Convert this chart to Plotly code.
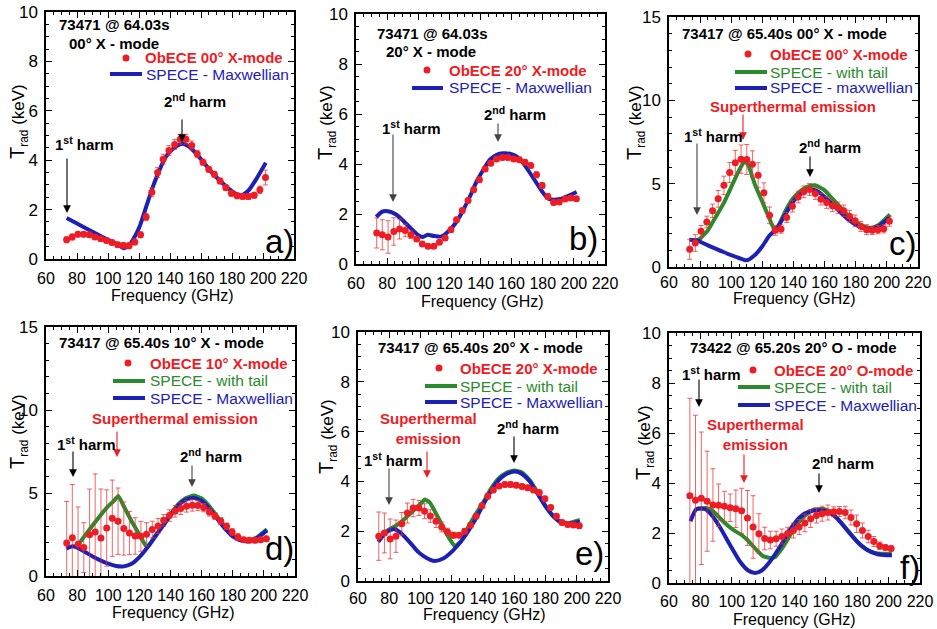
import plotly.graph_objects as go

W, H = 937, 629
FONT = "Liberation Sans, Arial, Helvetica, sans-serif"
RED = "#ee1c24"
ERRC = "rgba(232,50,50,0.75)"
BLUE = "#1c20b4"
GREEN = "#2b8a2b"

# ObECE channel frequencies (GHz)
FREQ = [73.3, 76.9, 80.6, 84.3, 88.0, 91.6, 95.3, 99.0, 102.6, 106.3, 110.0, 113.6,
        117.3, 121.0, 124.6, 128.3, 132.0, 135.6, 139.3, 143.0, 146.6, 150.3, 154.0, 157.6,
        161.3, 165.0, 168.6, 172.3, 176.0, 179.6, 183.3, 187.0, 190.6, 194.3, 198.0, 201.6]

# ---- panel a ----
A_OBS = [0.78, 0.89, 1.0, 1.0, 0.98, 0.89, 0.82, 0.75, 0.67, 0.58, 0.55, 0.54, 0.69, 0.98, 1.7, 2.7,
         3.5, 4.04, 4.39, 4.64, 4.85, 4.85, 4.6, 4.25, 3.92, 3.63, 3.43, 3.16, 2.89, 2.66, 2.56, 2.53,
         2.53, 2.58, 2.8, 3.3]
A_ERR = [0.12, 0.12, 0.1, 0.1, 0.1, 0.1, 0.1, 0.1, 0.1, 0.1, 0.12, 0.12, 0.12, 0.12, 0.15, 0.18,
         0.2, 0.2, 0.2, 0.2, 0.2, 0.2, 0.18, 0.15, 0.12, 0.12, 0.12, 0.12, 0.12, 0.12, 0.12, 0.12,
         0.12, 0.12, 0.15, 0.3]
A_MAX_X = [73.3, 80, 90, 100, 106.5, 109.7, 112.9, 116.1, 120.4, 124.7, 129, 133.2, 137.5, 141.8,
           147.2, 151.4, 156.8, 162.1, 167.5, 172.8, 178.2, 183.6, 186.8, 191, 195.3, 201.8]
A_MAX_Y = [1.66, 1.44, 1.1, 0.78, 0.58, 0.44, 0.51, 0.78, 1.32, 2.13, 2.93, 3.6, 4.15, 4.45,
           4.66, 4.59, 4.28, 3.88, 3.47, 3.14, 2.83, 2.6, 2.6, 2.8, 3.2, 3.9]

# ---- panel b ----
B_OBS = [1.24, 1.17, 1.08, 1.3, 1.4, 1.34, 1.17, 1.0, 0.8, 0.71, 0.71, 0.87, 1.04, 1.37, 1.77, 2.14,
         2.54, 2.97, 3.37, 3.8, 4.03, 4.2, 4.26, 4.26, 4.2, 4.17, 4.07, 3.94, 3.57, 3.14, 2.7, 2.46,
         2.48, 2.6, 2.64, 2.61]
B_ERR = [0.6, 0.6, 0.65, 0.55, 0.4, 0.25, 0.15, 0.1, 0.08, 0.08, 0.08, 0.08, 0.08, 0.1, 0.1, 0.1,
         0.1, 0.1, 0.1, 0.1, 0.1, 0.1, 0.1, 0.1, 0.1, 0.1, 0.1, 0.1, 0.12, 0.12, 0.12, 0.1,
         0.1, 0.1, 0.1, 0.1]
B_MAX_X = [73, 77, 82, 86, 90, 95, 100, 103, 106, 110, 114.9, 120.4, 124.7, 129, 133.2, 137.5,
           141.8, 146, 150.4, 154.6, 158.9, 163.2, 167.5, 171.8, 176, 180.3, 183.6, 186.8, 191,
           195.3, 201.8]
B_MAX_Y = [1.88, 2.1, 2.09, 1.97, 1.75, 1.44, 1.15, 1.08, 1.17, 1.12, 1.1, 1.37, 1.7, 2.17, 2.7,
           3.3, 3.77, 4.17, 4.37, 4.43, 4.41, 4.3, 4.03, 3.64, 3.24, 2.84, 2.61, 2.57, 2.6, 2.7, 2.88]

# ---- panel c ----
C_OBS = [1.06, 1.44, 2.14, 2.7, 3.37, 4.09, 4.9, 5.67, 6.25, 6.47, 6.45, 6.17, 5.51, 4.45, 3.1, 2.2,
         2.28, 2.97, 3.65, 4.2, 4.51, 4.65, 4.41, 4.07, 3.87, 3.67, 3.55, 3.37, 3.05, 2.77, 2.44,
         2.24, 2.2, 2.24, 2.3, 2.75]
C_ERR = [0.6, 0.5, 0.35, 0.35, 0.4, 0.5, 0.55, 0.6, 0.75, 0.85, 0.9, 0.8, 0.75, 0.6, 0.5, 0.3,
         0.25, 0.3, 0.35, 0.35, 0.35, 0.35, 0.35, 0.35, 0.35, 0.35, 0.35, 0.35, 0.35, 0.35, 0.3,
         0.3, 0.25, 0.25, 0.25, 0.3]
C_MAX_X = [73, 78, 85, 95, 105, 110, 115, 120, 124.7, 128, 131, 135, 140, 145, 150, 155, 160, 165,
           170, 175, 180, 185, 190, 195, 202]
C_MAX_Y = [1.64, 1.6, 1.3, 0.9, 0.54, 0.4, 0.7, 1.25, 1.9, 2.2, 2.56, 3.2, 3.95, 4.4, 4.65, 4.57,
           4.2, 3.77, 3.3, 2.87, 2.54, 2.34, 2.3, 2.46, 3.0]
C_TAIL_X = [78, 80, 85, 90, 95, 100, 105, 108.6, 111, 115, 120, 125, 128, 131, 135, 140, 145, 150,
            154, 160, 165, 170, 175, 180, 185, 190, 195, 202]
C_TAIL_Y = [1.6, 1.7, 2.2, 3.0, 3.8, 4.8, 5.8, 6.35, 6.1, 5.0, 3.9, 2.8, 2.2, 2.6, 3.4, 4.15, 4.6,
            4.85, 4.9, 4.6, 4.1, 3.6, 3.1, 2.7, 2.44, 2.34, 2.54, 3.15]

# ---- panel d ----
D_OBS = [1.99, 2.31, 1.91, 1.71, 2.49, 2.65, 2.29, 2.89, 3.48, 3.3, 2.86, 2.59, 2.41, 2.39, 2.51,
         2.8, 3.01, 3.36, 3.64, 3.9, 4.06, 4.2, 4.26, 4.24, 4.12, 3.86, 3.61, 3.31, 2.99, 2.65,
         2.35, 2.19, 2.15, 2.15, 2.19, 2.25]
D_ERR = [2.5, 3.2, 2.25, 1.5, 2.75, 3.5, 2.95, 2.3, 2.3, 2.0, 1.6, 1.3, 1.1, 0.9, 0.7, 0.5, 0.45,
         0.35, 0.35, 0.35, 0.35, 0.35, 0.35, 0.3, 0.25, 0.25, 0.2, 0.2, 0.2, 0.2, 0.2, 0.15, 0.15,
         0.15, 0.15, 0.15]
D_MAX_X = [73, 77, 80, 85, 90, 95, 100, 105, 110, 115, 120, 125, 130, 135, 140, 145, 150, 155, 160,
           165, 170, 175, 180, 185, 190, 195, 202]
D_MAX_Y = [1.65, 1.79, 1.71, 1.45, 1.18, 0.94, 0.74, 0.6, 0.58, 0.74, 1.14, 1.7, 2.35, 3.0, 3.65,
           4.26, 4.6, 4.7, 4.52, 4.06, 3.45, 2.85, 2.39, 2.15, 2.09, 2.25, 2.75]
D_TAIL_X = [80, 88.3, 95.8, 99.4, 103.3, 106.5, 110, 115, 120, 124.7, 127, 130, 135, 140, 145, 150,
            155, 160, 165, 170, 175, 180, 185, 190, 195, 202]
D_TAIL_Y = [1.8, 2.85, 3.75, 4.15, 4.5, 4.82, 4.2, 3.3, 2.5, 1.75, 1.95, 2.4, 3.05, 3.72, 4.33,
            4.7, 4.85, 4.67, 4.2, 3.58, 2.95, 2.45, 2.2, 2.12, 2.3, 2.82]

# ---- panel e ----
E_OBS = [1.8, 1.93, 1.69, 1.8, 2.3, 2.73, 2.93, 2.93, 2.8, 2.61, 2.4, 2.17, 1.97, 1.84, 1.84, 2.0,
         2.24, 2.6, 3.02, 3.4, 3.65, 3.82, 3.88, 3.88, 3.85, 3.8, 3.75, 3.65, 3.55, 3.3, 2.95, 2.6,
         2.35, 2.27, 2.25, 2.22]
E_ERR = [0.97, 0.8, 0.8, 0.65, 0.45, 0.4, 0.35, 0.3, 0.3, 0.25, 0.25, 0.2, 0.15, 0.12, 0.1, 0.1,
         0.1, 0.1, 0.1, 0.1, 0.1, 0.1, 0.1, 0.1, 0.1, 0.1, 0.1, 0.1, 0.1, 0.1, 0.1, 0.1, 0.1, 0.1,
         0.1, 0.1]
E_MAX_X = [73, 76.5, 80.3, 83.5, 87, 91, 95, 98.5, 102, 106, 109.2, 114.5, 120.9, 127.3, 134.8,
           140, 145, 150, 155, 160.5, 165, 170, 175, 180, 185, 190, 195, 202]
E_MAX_Y = [1.57, 1.85, 2.04, 2.08, 1.95, 1.7, 1.42, 1.17, 1.0, 0.86, 0.8, 0.9, 1.23, 1.7, 2.44,
           3.05, 3.6, 4.05, 4.3, 4.4, 4.3, 4.0, 3.5, 3.0, 2.6, 2.35, 2.3, 2.38]
E_TAIL_X = [78, 85, 90, 95, 100, 102.8, 106, 110, 115, 119, 122, 126, 130, 135, 140, 145, 150, 155,
            160, 165, 170, 175, 180, 185, 190, 195, 202]
E_TAIL_Y = [2.0, 2.25, 2.5, 2.8, 3.1, 3.27, 3.15, 2.7, 2.1, 1.65, 1.4, 1.6, 2.1, 2.65, 3.15, 3.7,
            4.12, 4.35, 4.44, 4.36, 4.05, 3.55, 3.02, 2.6, 2.36, 2.33, 2.45]

# ---- panel f ----
F_OBS = [3.49, 3.31, 3.39, 3.27, 3.12, 3.11, 3.07, 3.01, 2.97, 2.89, 2.6, 2.24, 1.97, 1.78, 1.72,
         1.77, 1.86, 1.98, 2.1, 2.24, 2.4, 2.57, 2.7, 2.77, 2.82, 2.85, 2.86, 2.82, 2.62, 2.37, 2.1,
         1.86, 1.66, 1.49, 1.42, 1.38]
F_ERR = [3.9, 3.4, 2.65, 2.0, 1.45, 0.85, 0.6, 0.55, 0.75, 0.9, 1.1, 1.25, 0.8, 0.45, 0.35, 0.3,
         0.3, 0.25, 0.3, 0.3, 0.35, 0.35, 0.3, 0.3, 0.3, 0.2, 0.2, 0.25, 0.3, 0.35, 0.3, 0.25, 0.2,
         0.15, 0.1, 0.1]
F_MAX_X = [73.7, 77.5, 82.8, 87.1, 92.4, 98.8, 105.2, 110.5, 114.8, 119.1, 124.4, 130.8, 137.1,
           143.5, 149.9, 156.3, 160.5, 166.9, 173.3, 179.7, 186.1, 192.5, 198.9, 202.1]
F_MAX_Y = [2.47, 2.96, 2.96, 2.72, 2.24, 1.53, 0.86, 0.5, 0.4, 0.5, 0.86, 1.46, 2.13, 2.64, 2.87,
           2.91, 2.87, 2.6, 2.13, 1.67, 1.33, 1.16, 1.11, 1.11]
F_TAIL_X = [77.5, 83.8, 88.1, 94.4, 100.8, 106.1, 109.8, 115.7, 120, 124.4, 127.6, 132.9, 139.3,
            145.6, 152, 158.4, 162.6, 169, 175.4, 181.8, 188.2, 194.6, 202]
F_TAIL_Y = [2.96, 3.0, 2.87, 2.47, 2.13, 1.93, 1.73, 1.33, 1.07, 1.0, 1.04, 1.47, 2.13, 2.64, 2.93,
            2.96, 2.87, 2.47, 2.0, 1.53, 1.27, 1.17, 1.17]

X_TICKS = [60, 80, 100, 120, 140, 160, 180, 200, 220]

# layout: pixel boxes (left, right, top, bottom) for each panel, tick-label standoff
PANELS = [
    dict(key="a", box=(46, 294, 12, 259), sx=4, ymax=10, obs=A_OBS, err=A_ERR, mx=A_MAX_X, my=A_MAX_Y, tx=None, ty=None),
    dict(key="b", box=(356, 605, 14, 264), sx=4, ymax=10, obs=B_OBS, err=B_ERR, mx=B_MAX_X, my=B_MAX_Y, tx=None, ty=None),
    dict(key="c", box=(669, 918, 17, 267), sx=0, ymax=15, obs=C_OBS, err=C_ERR, mx=C_MAX_X, my=C_MAX_Y, tx=C_TAIL_X, ty=C_TAIL_Y),
    dict(key="d", box=(46, 295, 327, 576), sx=4, ymax=15, obs=D_OBS, err=D_ERR, mx=D_MAX_X, my=D_MAX_Y, tx=D_TAIL_X, ty=D_TAIL_Y),
    dict(key="e", box=(358, 608, 332, 581), sx=2, ymax=10, obs=E_OBS, err=E_ERR, mx=E_MAX_X, my=E_MAX_Y, tx=E_TAIL_X, ty=E_TAIL_Y),
    dict(key="f", box=(669, 920, 333, 583), sx=3, ymax=10, obs=F_OBS, err=F_ERR, mx=F_MAX_X, my=F_MAX_Y, tx=F_TAIL_X, ty=F_TAIL_Y),
]


def X(px):
    return px / W


def Y(py):
    return 1 - py / H


fig = go.Figure()
layout = dict(width=W, height=H, autosize=False,
              margin=dict(l=0, r=0, t=0, b=0, pad=0, autoexpand=False),
              paper_bgcolor="white", plot_bgcolor="white", showlegend=False)

for i, p in enumerate(PANELS):
    n = "" if i == 0 else str(i + 1)
    L, R, T, B = p["box"]
    xa = dict(domain=[X(L), X(R)], anchor="y" + n, range=[60, 220], tickmode="array",
              tickvals=X_TICKS, tickangle=0, automargin=False, ticklabeloverflow="allow",
              showline=True, linecolor="black", linewidth=1.5,
              mirror="allticks", ticks="inside", ticklen=6, tickwidth=1.2, tickcolor="black",
              minor=dict(ticks="inside", dtick=5, tick0=60, ticklen=3, tickwidth=1, tickcolor="black", showgrid=False),
              showgrid=False, zeroline=False, ticklabelstandoff=p["sx"],
              tickfont=dict(family=FONT, size=16, color="black"))
    big = p["ymax"] == 15
    ya = dict(domain=[Y(B), Y(T)], anchor="x" + n, range=[0, p["ymax"]], tick0=0,
              dtick=5 if big else 2, tickangle=0, automargin=False, ticklabeloverflow="allow",
              showline=True, linecolor="black", linewidth=1.5,
              mirror="allticks", ticks="inside", ticklen=6, tickwidth=1.2, tickcolor="black",
              minor=dict(ticks="inside", dtick=1 if big else 0.5, ticklen=3, tickwidth=1, tickcolor="black", showgrid=False),
              showgrid=False, zeroline=False, ticklabelstandoff=3,
              tickfont=dict(family=FONT, size=17, color="black"))
    layout["xaxis" + n] = xa
    layout["yaxis" + n] = ya
    xr, yr = "x" + n, "y" + n
    if p["tx"] is not None:
        fig.add_trace(go.Scatter(x=p["tx"], y=p["ty"], mode="lines", xaxis=xr, yaxis=yr,
                                 line=dict(color=GREEN, width=4, shape="spline", smoothing=0.4),
                                 name="SPECE - with tail"))
    fig.add_trace(go.Scatter(x=p["mx"], y=p["my"], mode="lines", xaxis=xr, yaxis=yr,
                             line=dict(color=BLUE, width=4, shape="spline", smoothing=0.6),
                             name="SPECE - Maxwellian"))
    fig.add_trace(go.Scatter(x=FREQ, y=p["obs"], mode="markers", xaxis=xr, yaxis=yr,
                             marker=dict(color=RED, size=7),
                             error_y=dict(type="data", array=p["err"], color=ERRC, thickness=1, width=2.5),
                             name="ObECE"))

ann = []
shapes = []


def label(px, py, text, color="black", size=15, bold=True, anchor="left"):
    t = "<b>" + text + "</b>" if bold else text
    ann.append(dict(x=X(px), y=Y(py), xref="paper", yref="paper", text=t, showarrow=False,
                    xanchor=anchor, yanchor="middle", font=dict(family=FONT, size=size, color=color)))


def arrow(px, tip, tail, color="black"):
    ann.append(dict(x=X(px), y=Y(tip), xref="paper", yref="paper", ax=0, ay=tail - tip,
                    axref="pixel", ayref="pixel", text="", showarrow=True, arrowhead=2,
                    arrowsize=1.4, arrowwidth=1.1, arrowcolor=color))


def key_dot(cx, cy):
    shapes.append(dict(type="circle", xref="paper", yref="paper", x0=X(cx - 3.5), x1=X(cx + 3.5),
                       y0=Y(cy + 3.5), y1=Y(cy - 3.5), fillcolor=RED, line=dict(width=0)))


def key_line(x0, x1, cy, color):
    shapes.append(dict(type="line", xref="paper", yref="paper", x0=X(x0), x1=X(x1),
                       y0=Y(cy), y1=Y(cy), line=dict(color=color, width=4)))


ST = "<sup>st</sup>"
ND = "<sup>nd</sup>"
GRAY = "#444444"
LS = 15.5  # legend text size (normal weight)

# panel a
label(57, 25, "73471 @ 64.03s")
label(67, 43, "00° X - mode")
key_dot(126, 58); label(143, 58, "ObECE 00° X-mode", RED)
key_line(110, 142, 74, BLUE); label(144, 74, "SPECE - Maxwellian", BLUE, LS, False)
label(162, 100, "2" + ND + " harm"); arrow(182, 142, 118)
label(53, 143, "1" + ST + " harm"); arrow(67, 213, 157)
label(263, 242, "a)", "black", 33, False)

# panel b
label(375, 33, "73471 @ 64.03s")
label(384, 52, "20° X - mode")
key_dot(427, 70); label(447, 70, "ObECE 20° X-mode", RED)
key_line(412, 443, 88, BLUE); label(447, 88, "SPECE - Maxwellian", BLUE, LS, False)
label(482, 113, "2" + ND + " harm"); arrow(498, 142, 122, GRAY)
label(380, 128, "1" + ST + " harm"); arrow(393, 202, 133, GRAY)
label(567, 238, "b)", "black", 33, False)

# panel c
label(680, 33, "73417 @ 65.40s 00° X - mode")
key_dot(748, 54); label(768, 55, "ObECE 00° X-mode", RED)
key_line(735, 767, 72, GREEN); label(768, 72, "SPECE - with tail", GREEN, LS, False)
key_line(735, 767, 88, BLUE); label(768, 88, "SPECE - maxwellian", BLUE, LS, False)
label(708, 106, "Superthermal emission", RED); arrow(743, 140, 113, RED)
label(682, 135, "1" + ST + " harm"); arrow(697, 215, 142, GRAY)
label(797, 147, "2" + ND + " harm"); arrow(810, 177, 155)
label(887, 243, "c)", "black", 33, False)

# panel d
label(57, 342, "73417 @ 65.40s 10° X - mode")
key_dot(128, 363); label(148, 363, "ObECE 10° X-mode", RED)
key_line(113, 145, 381, GREEN); label(148, 381, "SPECE - with tail", GREEN, LS, False)
key_line(113, 145, 398, BLUE); label(148, 398, "SPECE - Maxwellian", BLUE, LS, False)
label(90, 418, "Superthermal emission", RED); arrow(117, 457, 430, RED)
label(55, 443, "1" + ST + " harm"); arrow(73, 477, 450)
label(178, 455, "2" + ND + " harm"); arrow(192, 487, 464, GRAY)
label(263, 548, "d)", "black", 33, False)

# panel e
label(376, 347, "73417 @ 65.40s 20° X - mode")
key_dot(439, 368); label(458, 368, "ObECE 20° X-mode", RED)
key_line(425, 457, 386, GREEN); label(458, 386, "SPECE - with tail", GREEN, LS, False)
key_line(425, 457, 402, BLUE); label(458, 402, "SPECE - Maxwellian", BLUE, LS, False)
label(428, 428, "Superthermal<br>emission", RED, anchor="center"); arrow(427, 478, 450, RED)
label(362, 459, "1" + ST + " harm"); arrow(389, 505, 467, GRAY)
label(495, 427, "2" + ND + " harm"); arrow(514, 463, 435)
label(573, 553, "e)", "black", 33, False)

# panel f
label(688, 347, "73422 @ 65.20s 20° O - mode")
key_dot(753, 370); label(772, 370, "ObECE 20° O-mode", RED)
key_line(738, 770, 387, GREEN); label(772, 387, "SPECE - with tail", GREEN, LS, False)
key_line(738, 770, 405, BLUE); label(772, 405, "SPECE - Maxwellian", BLUE, LS, False)
label(680, 373, "1" + ST + " harm"); arrow(699, 407, 378)
label(755, 434, "Superthermal<br>emission", RED, anchor="center"); arrow(744, 483, 453, RED)
label(810, 462, "2" + ND + " harm"); arrow(819, 493, 472)
label(898, 567, "f)", "black", 33, False)

# axis titles
YT = "<span style='font-size:20px'>T</span><sub>rad</sub> (keV)"
for cx, cy in [(19, 122), (327, 123), (636, 123), (18, 432), (327, 437), (644, 443)]:
    ann.append(dict(x=X(cx), y=Y(cy), xref="paper", yref="paper", text=YT, textangle=-90,
                    showarrow=False, xanchor="center", yanchor="middle",
                    font=dict(family=FONT, size=17, color="black")))
for cx, cy in [(172, 295), (482, 301), (794, 298), (173, 612), (484, 614), (794, 619)]:
    ann.append(dict(x=X(cx), y=Y(cy), xref="paper", yref="paper", text="Frequency (GHz)",
                    showarrow=False, xanchor="center", yanchor="middle",
                    font=dict(family=FONT, size=16, color="black")))

layout["annotations"] = ann
layout["shapes"] = shapes
fig.update_layout(**layout)
# the page body has a default 8px margin; remove it so the figure fills the window exactly
fig.write_html("out.html", config={"displayModeBar": False},
               post_script="document.body.style.margin='0px';")
